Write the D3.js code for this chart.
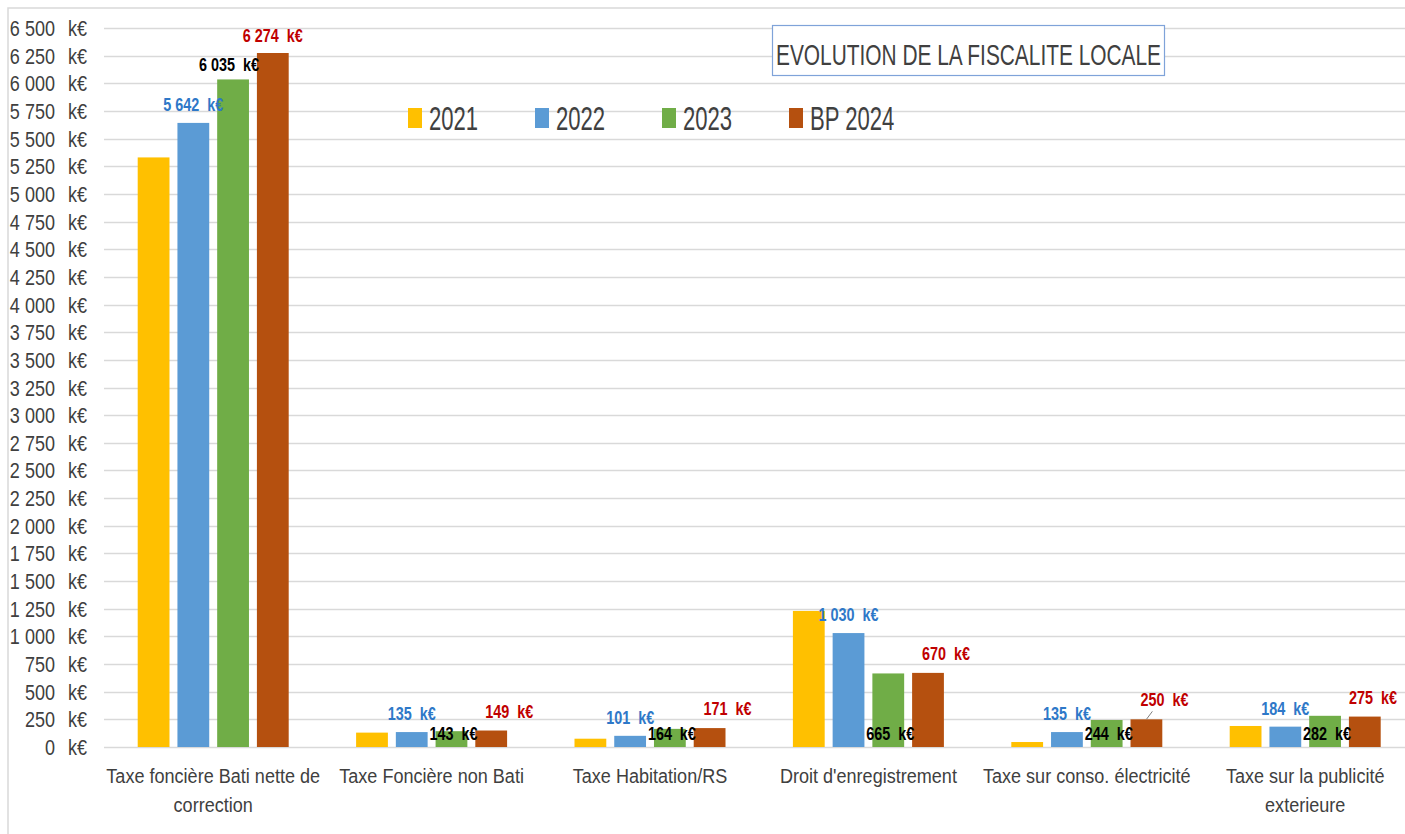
<!DOCTYPE html>
<html>
<head>
<meta charset="utf-8">
<script src="https://cdn.jsdelivr.net/npm/d3@7"></script>
<style>
  body { margin: 0; background: #fff; }
  svg { display: block; }
  text { font-family: "Liberation Sans", Arial, sans-serif; white-space: pre; }
</style>
</head>
<body>
<div id="chart"></div>
<script>
// Data
const categories = [
    'Taxe foncière Bati nette de correction',
    'Taxe Foncière non Bati',
    'Taxe Habitation/RS',
    "Droit d'enregistrement",
    'Taxe sur conso. électricité',
    'Taxe sur la publicité exterieure'
];
const seriesNames = ['2021', '2022', '2023', 'BP 2024'];
const values2021 = [5330, 130, 75, 1230, 45, 190];
const values2022 = [5642, 135, 101, 1030, 135, 184];
const values2023 = [6035, 143, 164, 665, 244, 282];
const valuesBP2024 = [6274, 149, 171, 670, 250, 275];
const yTicks = d3.range(0, 6501, 250);

const colors = ['#FFC000', '#5B9BD5', '#70AD47', '#B5500F'];
const labelColors = [null, '#2E78C8', '#000000', '#C00000'];
const series = [values2021, values2022, values2023, valuesBP2024];

const W = 1405, H = 834;
const svg = d3.select('#chart').append('svg')
    .attr('width', W)
    .attr('height', H);

svg.append('rect').attr('width', W).attr('height', H).attr('fill', '#fff');

// Narrow look: the condensed font isn't available, so squeeze horizontally
const place = (x, y, sx) => `translate(${x},${y}) scale(${sx},1)`;

// Outer frame (top + left edges visible)
svg.append('path')
    .attr('d', `M8,${H} V8 H${W}`)
    .attr('fill', 'none')
    .attr('stroke', '#D9D9D9')
    .attr('stroke-width', 1.5);

// Scales
const y = d3.scaleLinear().domain([0, 6500]).range([747, 28]);
const x0 = d3.scaleBand().domain(categories).range([104, 1414.4]).padding(0);
const x1 = d3.scaleBand().domain(seriesNames).range([0, 151]).paddingInner(0.2);
const groupOffset = (x0.bandwidth() - 151) / 2;

// Gridlines
svg.append('g')
    .selectAll('line')
    .data(yTicks)
    .enter().append('line')
    .attr('x1', 104)
    .attr('x2', W)
    .attr('y1', d => Math.round(y(d)) + 0.5)
    .attr('y2', d => Math.round(y(d)) + 0.5)
    .attr('stroke', '#D9D9D9')
    .attr('stroke-width', 1.3);

// Y axis labels: number right aligned, then k€
const fmt = d3.formatLocale({ thousands: ' ', grouping: [3], decimal: ',', currency: ['', ''] }).format(',d');
const yLab = svg.append('g').attr('class', 'y-labels');
yLab.selectAll('.num')
    .data(yTicks)
    .enter().append('text')
    .attr('class', 'num')
    .attr('transform', d => place(55, y(d) + 8, 0.82))
    .attr('text-anchor', 'end')
    .attr('fill', '#404040')
    .style('font-size', '22px')
    .text(d => fmt(d));
yLab.selectAll('.unit')
    .data(yTicks)
    .enter().append('text')
    .attr('class', 'unit')
    .attr('transform', d => place(87, y(d) + 8, 0.82))
    .attr('text-anchor', 'end')
    .attr('fill', '#404040')
    .style('font-size', '22px')
    .text('k€');

// Bars
const rows = [];
categories.forEach((c, i) => {
    seriesNames.forEach((s, j) => rows.push({ cat: c, ci: i, s: s, si: j, v: series[j][i] }));
});
const barX = d => x0(d.cat) + groupOffset + x1(d.s);

svg.append('g')
    .selectAll('rect')
    .data(rows)
    .enter().append('rect')
    .attr('x', barX)
    .attr('y', d => y(d.v))
    .attr('width', x1.bandwidth())
    .attr('height', d => y(0) - y(d.v))
    .attr('fill', d => colors[d.si]);

// Value labels (2021 has none)
const labelled = rows.filter(d => d.si > 0);
const labelPos = d => {
    const cx = barX(d) + x1.bandwidth() / 2;
    const top = y(d.v);
    if (d.si === 1) return [cx, top - 12];
    if (d.si === 2) return d.v > 1000 ? [cx - 4, top - 8] : [cx + 2, 740];
    return d.v > 1000 ? [cx, top - 11] : [Math.min(cx + 18, W - 32), top - 13];
};
svg.append('g')
    .selectAll('text')
    .data(labelled)
    .enter().append('text')
    .attr('transform', d => place(labelPos(d)[0], labelPos(d)[1], 0.8))
    .attr('text-anchor', 'middle')
    .attr('fill', d => labelColors[d.si])
    .style('font-size', '18px')
    .style('font-weight', 'bold')
    .text(d => fmt(d.v) + '  k€');

// Leader line for the electricity BP label
const lead = rows.find(d => d.cat === 'Taxe sur conso. électricité' && d.si === 3);
svg.append('line')
    .attr('x1', barX(lead) + x1.bandwidth() / 2)
    .attr('y1', y(lead.v))
    .attr('x2', labelPos(lead)[0] - 12)
    .attr('y2', labelPos(lead)[1] + 5)
    .attr('stroke', '#7F7F7F')
    .attr('stroke-width', 1);

// Category labels, wrapped
const catG = svg.append('g');
catG.selectAll('text')
    .data(categories)
    .enter().append('text')
    .attr('transform', d => place(x0(d) + x0.bandwidth() / 2, 783, 0.86))
    .attr('text-anchor', 'middle')
    .attr('fill', '#404040')
    .style('font-size', '21px')
    .each(function(d) {
        const el = d3.select(this);
        const words = d.split(' ');
        let line = [];
        let tspan = el.append('tspan').attr('x', 0);
        words.forEach(w => {
            line.push(w);
            tspan.text(line.join(' '));
            if (tspan.node().getComputedTextLength() > 250 && line.length > 1) {
                line.pop();
                tspan.text(line.join(' '));
                line = [w];
                tspan = el.append('tspan').attr('x', 0).attr('dy', 29).text(w);
            }
        });
    });

// Legend
const legend = svg.append('g')
    .selectAll('g')
    .data(seriesNames)
    .enter().append('g')
    .attr('transform', (d, i) => `translate(${408 + i * 127},108)`);
legend.append('rect')
    .attr('width', 14)
    .attr('height', 20)
    .attr('fill', (d, i) => colors[i]);
legend.append('text')
    .attr('transform', place(21, 22, 0.65))
    .attr('fill', '#404040')
    .style('font-size', '34px')
    .text(d => d);

// Title box
svg.append('rect')
    .attr('x', 772.5)
    .attr('y', 25.5)
    .attr('width', 392)
    .attr('height', 50)
    .attr('fill', '#fff')
    .attr('stroke', '#7FA3D9')
    .attr('stroke-width', 1.2);
svg.append('text')
    .attr('x', 776)
    .attr('y', 65)
    .attr('fill', '#404040')
    .attr('textLength', 385)
    .attr('lengthAdjust', 'spacingAndGlyphs')
    .style('font-size', '30px')
    .text('EVOLUTION DE LA FISCALITE LOCALE');
</script>
</body>
</html>
